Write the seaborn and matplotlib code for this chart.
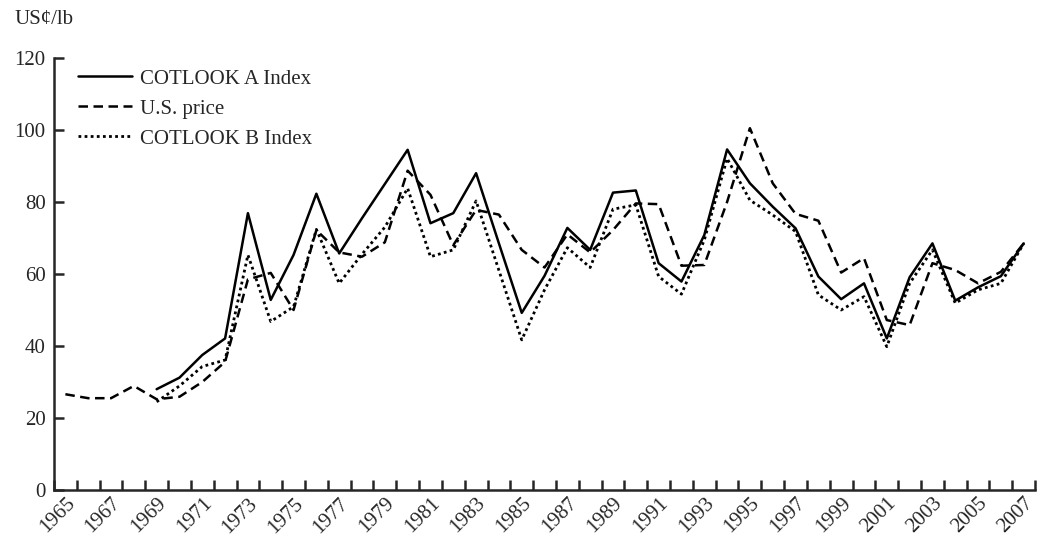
import seaborn as sns
import matplotlib.pyplot as plt
import matplotlib.ticker as mticker
import pandas as pd
import numpy as np

sns.set_style("ticks")
plt.rcParams['font.family'] = ['Liberation Serif', 'DejaVu Serif']

# values (US cents per lb)
years = list(range(1965, 2008))
nan = np.nan
cotlook_a = [nan, nan, nan, nan, 28.0, 31.2, 37.5, 42.1, 76.9, 52.8,
             65.3, 82.3, 65.7, 75.5, 85.0, 94.5, 74.1, 76.9, 88.0, 68.5,
             49.2, 59.5, 72.8, 66.7, 82.6, 83.2, 63.0, 57.9, 70.8, 94.6,
             85.2, 78.7, 72.7, 59.3, 53.0, 57.4, 42.1, 59.1, 68.5, 52.6,
             56.3, 59.4, 68.5]
us_price = [26.6, 25.5, 25.5, 28.9, 25.2, 25.9, 30.0, 35.6, 58.5, 60.3,
            50.0, 72.2, 66.0, 64.8, 68.8, 88.7, 82.0, 68.0, 77.8, 76.5,
            66.7, 61.8, 71.0, 66.0, 72.2, 79.6, 79.4, 62.3, 62.5, 80.0,
            100.5, 85.2, 76.7, 74.8, 60.4, 64.4, 47.2, 45.8, 63.0, 61.1,
            57.4, 60.6, 68.5]
cotlook_b = [nan, nan, nan, nan, 24.5, 28.9, 34.3, 36.1, 65.3, 46.8,
             50.9, 72.4, 57.4, 65.5, 73.0, 83.8, 64.8, 66.7, 80.3, 61.0,
             41.7, 55.6, 67.3, 61.8, 78.0, 79.2, 59.3, 54.4, 69.4, 92.1,
             80.5, 76.4, 71.8, 54.2, 50.0, 53.7, 39.8, 57.4, 66.7, 51.9,
             55.6, 57.4, 68.5]
series_names = ['COTLOOK A Index', 'U.S. price', 'COTLOOK B Index']

df = pd.DataFrame({'pos': np.arange(len(years)),
                   'COTLOOK A Index': cotlook_a,
                   'U.S. price': us_price,
                   'COTLOOK B Index': cotlook_b})

fig = plt.figure(figsize=(10.46, 5.41), dpi=100)
ax = fig.add_axes([0.0516, 0.0943, 0.938, 0.7985])

styles = {'COTLOOK A Index': dict(linestyle='-', linewidth=1.8),
          'U.S. price': dict(linestyle=(0, (3.8, 2.2)), linewidth=1.8),
          'COTLOOK B Index': dict(linestyle=(0, (1, 1.2)), linewidth=2.0)}

for name in series_names:
    sns.lineplot(data=df, x='pos', y=name, ax=ax, color='black',
                 label=name, **styles[name])

ax.set_xlim(-0.5, len(years) - 0.5)
ax.set_ylim(0, 120)
ax.set_yticks([0, 20, 40, 60, 80, 100, 120])
ax.set_xlabel('')
ax.set_ylabel('')

# labels on every other year, tick marks between categories
ax.set_xticks(np.arange(0, len(years), 2))
ax.set_xticklabels([str(y) for y in years[::2]], rotation=45, ha='right',
                   rotation_mode='anchor')
ax.xaxis.set_minor_locator(mticker.FixedLocator(np.arange(-0.5, len(years), 1)))
ax.tick_params(axis='x', which='major', length=0, labelsize=15, pad=3)
ax.tick_params(axis='x', which='minor', length=7, width=1.8, direction='in')
ax.tick_params(axis='y', length=7, width=1.8, direction='in', labelsize=15, pad=6)

sns.despine(ax=ax)
for s in ['left', 'bottom']:
    ax.spines[s].set_linewidth(1.8)

fig.text(0.014, 0.964, 'US¢/lb', fontsize=15, ha='left', va='center')

leg = ax.legend(loc='upper left', bbox_to_anchor=(0.005, 1.018), frameon=False,
                fontsize=15, handlelength=2.6, handletextpad=0.4,
                labelspacing=0.5)

plt.savefig('out.png')
plt.close()
